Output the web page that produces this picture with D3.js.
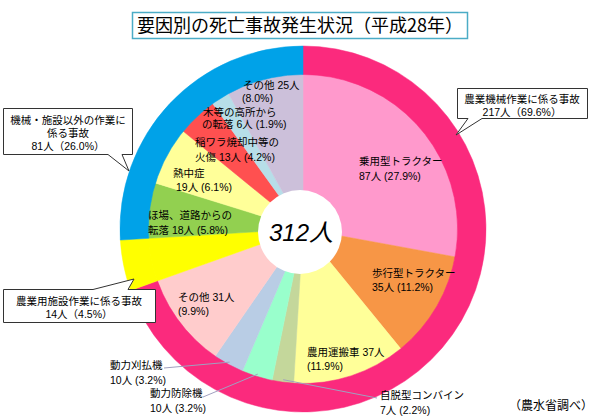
<!DOCTYPE html>
<html><head><meta charset="utf-8">
<script src="https://cdn.jsdelivr.net/npm/d3@7"></script>
<style>body{margin:0;background:#fff}svg{display:block}</style>
</head><body>
<svg id="c" width="600" height="418"></svg>
<script>
// ---- data ----
const innerCategories = ["乗用型トラクター","歩行型トラクター","農用運搬車","自脱型コンバイン","動力防除機","動力刈払機","その他","農業用施設作業","ほ場、道路からの転落","熱中症","稲ワラ焼却中等の火傷","木等の高所からの転落","その他"];
const innerValues = [87,35,37,7,10,10,31,14,18,19,13,6,25];
const innerPercents = ["27.9","11.2","11.9","2.2","3.2","3.2","9.9","4.5","5.8","6.1","4.2","1.9","8.0"];
const outerCategories = ["農業機械作業に係る事故","農業用施設作業に係る事故","機械・施設以外の作業に係る事故"];
const outerValues = [217,14,81];
const outerPercents = ["69.6","4.5","26.0"];
const totalLabel = "312人";
const titleText = "要因別の死亡事故発生状況（平成28年）";
const sourceText = "（農水省調べ）";

// ---- styles ----
const innerColors = ["#ff99cc","#f79646","#ffff99","#c4d79b","#99ffcc","#b9cde5","#ffcccc","#ffff00","#92d050","#ffff99","#ff5050","#b7dee8","#ccc0da"];
const outerColors = ["#fb2a7d","#ffff00","#00a2e8"];

const svg = d3.select("#c");
const cx = 303, cy = 229;
const rIn = 155, rOut = 183;
const FONT = "'Noto Sans CJK JP','Noto Sans',sans-serif";
const LFONT = "'Liberation Sans','Noto Sans CJK JP',sans-serif";

// title
svg.append("rect").attr("x",132.5).attr("y",12.5).attr("width",335).attr("height",26)
  .attr("fill","#fff").attr("stroke","#4bacc6").attr("stroke-width",1.5);
svg.append("text").attr("x",300).attr("y",32).attr("text-anchor","middle")
  .attr("font-family",FONT).attr("font-size",18).attr("fill","#000").text(titleText);

const g = svg.append("g").attr("transform",`translate(${cx},${cy})`);
const pie = d3.pie().sort(null).startAngle(0).endAngle(2*Math.PI);
const innerArcs = pie(innerValues);
const outerArcs = pie(outerValues);

const arcInner = d3.arc().innerRadius(0).outerRadius(rIn);
const arcOuter = d3.arc().innerRadius(rIn-0.5).outerRadius(rOut);

g.selectAll("path.in").data(innerArcs).join("path").attr("class","in")
  .attr("d",arcInner).attr("fill",(d,i)=>innerColors[i]).attr("stroke",(d,i)=>innerColors[i]).attr("stroke-width",0.5);
g.selectAll("path.out").data(outerArcs).join("path").attr("class","out")
  .attr("d",arcOuter).attr("fill",(d,i)=>outerColors[i]).attr("stroke",(d,i)=>outerColors[i]).attr("stroke-width",0.5);

// center hole
svg.append("circle").attr("cx",300).attr("cy",232).attr("r",42).attr("fill","#fff");
svg.append("text").attr("x",301).attr("y",241).attr("text-anchor","middle")
  .attr("font-family","'Liberation Sans',Arial,'Noto Sans CJK JP',sans-serif")
  .attr("font-style","italic").attr("font-size",24).attr("fill","#000").text(totalLabel);

// slice labels
const lbl = (i)=>`${innerValues[i]}人 (${innerPercents[i]}%)`;
const sliceLabels = [
  {lines:["乗用型トラクター", lbl(0)], xs:[359,359], ys:[165,180]},
  {lines:["歩行型トラクター", lbl(1)], xs:[372,372], ys:[277,291]},
  {lines:[`農用運搬車 ${innerValues[2]}人`, `(${innerPercents[2]}%)`], xs:[307,307], ys:[356,370]},
  {lines:["自脱型コンバイン", lbl(3)], xs:[380,380], ys:[399,414]},
  {lines:["動力防除機", lbl(4)], xs:[150,150], ys:[397,412]},
  {lines:["動力刈払機", lbl(5)], xs:[110,110], ys:[369,384]},
  {lines:[`その他 ${innerValues[6]}人`, `(${innerPercents[6]}%)`], xs:[178,178], ys:[301,315]},
  {lines:["ほ場、道路からの", `転落 ${innerValues[8]}人 (${innerPercents[8]}%)`], xs:[148,148], ys:[219,234]},
  {lines:["熱中症", lbl(9)], xs:[173,176], ys:[177,191]},
  {lines:["稲ワラ焼却中等の", `火傷 ${innerValues[10]}人 (${innerPercents[10]}%)`], xs:[195,195], ys:[146,161]},
  {lines:["木等の高所から", `の転落 ${innerValues[11]}人 (${innerPercents[11]}%)`], xs:[203,202], ys:[116,128]},
  {lines:[`その他 ${innerValues[12]}人`, `(${innerPercents[12]}%)`], xs:[243,242], ys:[89,102]}
];
sliceLabels.forEach(s=>{
  s.lines.forEach((t,k)=>{
    svg.append("text").attr("x",s.xs[k]).attr("y",s.ys[k]).attr("font-family",LFONT)
      .attr("font-size",10.5).attr("fill","#000").text(t);
  });
});

// leader lines from slices to labels
const leaders = [{i:5, end:[164,368]},{i:4, end:[203,397]},{i:3, end:[377,398]}];
leaders.forEach(l=>{
  const a = innerArcs[l.i];
  const m = (a.startAngle + a.endAngle)/2;
  const r = 152;
  const sx = cx + r*Math.sin(m), sy = cy - r*Math.cos(m);
  svg.append("line").attr("x1",sx).attr("y1",sy).attr("x2",l.end[0]).attr("y2",l.end[1])
    .attr("stroke","#a0a0c0").attr("stroke-width",1);
});

// callouts
function callout(pathD, lines, tx, tys){
  svg.append("path").attr("d",pathD).attr("fill","#fff").attr("stroke","#333").attr("stroke-width",1);
  lines.forEach((t,k)=>svg.append("text").attr("x",tx).attr("y",tys[k]).attr("text-anchor","middle")
    .attr("font-family",LFONT).attr("font-size",10.5).attr("fill","#000").text(t));
}
callout("M457.5,88.5 H587.5 V118.5 H482 L456,135 L468,118.5 H457.5 Z",
  [outerCategories[0], `${outerValues[0]}人（${outerPercents[0]}%）`], 522, [103,116]);
callout("M3.5,108.5 H132.5 V154.5 H122 L129,171 L108,154.5 H3.5 Z",
  ["機械・施設以外の作業に","係る事故", `${outerValues[2]}人（${outerPercents[2]}%）`], 68, [124,137,150]);
callout("M3.5,289.5 H93 L134,279 L128,289.5 H155.5 V322.5 H3.5 Z",
  [outerCategories[1], `${outerValues[1]}人（${outerPercents[1]}%）`], 79, [305,318]);

// source
svg.append("text").attr("x",509).attr("y",410).attr("font-family",FONT)
  .attr("font-size",12).attr("fill","#000").text(sourceText);
</script>
</body></html>
